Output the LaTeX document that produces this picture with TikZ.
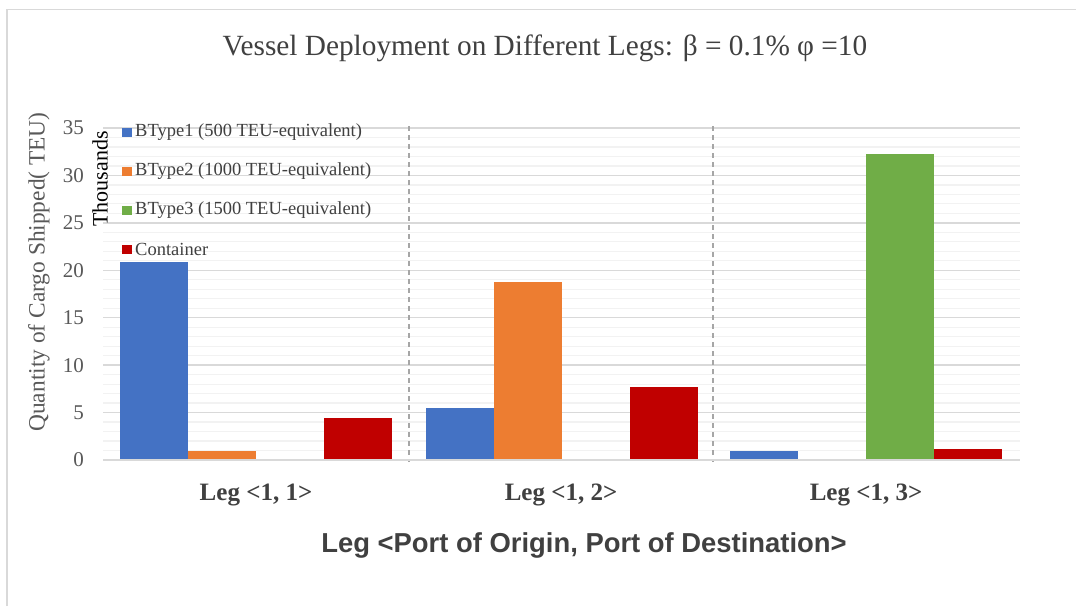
\documentclass[tikz,border=0pt]{standalone}
\usepackage{fontspec}
\setmainfont{Liberation Serif}
\newfontfamily\axisfont{Liberation Sans}
\definecolor{sblue}{HTML}{4472C4}
\definecolor{sorange}{HTML}{ED7D31}
\definecolor{sgreen}{HTML}{70AD47}
\definecolor{sred}{HTML}{C00000}
\definecolor{txt}{HTML}{404040}
\definecolor{ticktxt}{HTML}{595959}
\definecolor{majorcol}{HTML}{D9D9D9}
\definecolor{minorcol}{HTML}{F2F2F2}
\definecolor{framecol}{HTML}{D9D9D9}
\definecolor{sepcol}{HTML}{A6A6A6}
\tikzset{
  minorgrid/.style={minorcol, line width=1.2pt},
  majorgrid/.style={majorcol, line width=1.5pt},
  axisline/.style={majorcol, line width=2pt},
  separator/.style={sepcol, line width=1.3pt, dash pattern=on 5pt off 4pt},
  ticklabel/.style={anchor=east, inner sep=0pt, text=ticktxt, font=\fontsize{21}{23}\selectfont},
  legendtext/.style={anchor=west, inner sep=0pt, text=txt, font=\fontsize{18.5}{20}\selectfont},
  catlabel/.style={inner sep=0pt, text=txt, font=\fontsize{25}{27}\selectfont\bfseries}
}
\begin{document}
\begin{tikzpicture}[x=1pt, y=-1pt]
\useasboundingbox (0,0) rectangle (1076,606);
\fill[white] (0,0) rectangle (1076,606);
% chart frame (left and top edges)
\draw[framecol, line width=1.5pt] (7,606) -- (7,9.5) -- (1076,9.5);

% title
\node[text=txt, inner sep=0pt, font=\fontsize{29.3}{32}\selectfont] (title) at (545,48)
  {Vessel Deployment on Different Legs: β = 0.1\% φ =10};

% horizontal gridlines: minor every 1, major every 5 (thousand TEU)
\foreach \v in {0,...,35}
  \draw[minorgrid] (103,{460-\v*9.486}) -- (1020,{460-\v*9.486});
\foreach \v in {5,10,...,35}
  \draw[majorgrid] (103,{460-\v*9.486}) -- (1020,{460-\v*9.486});

% category separators
\draw[separator] (409,126) -- (409,462);
\draw[separator] (713,126) -- (713,462);

% bars: left edge / value / colour
\foreach \x/\v/\c in {120/20.9/sblue, 188/1.0/sorange, 324/4.43/sred,
                      426/5.45/sblue, 494/18.8/sorange, 630/7.66/sred,
                      730/0.92/sblue, 866/32.26/sgreen, 934/1.13/sred}
  \fill[\c] (\x,460) rectangle ({\x+68},{460-\v*9.486});

% horizontal axis
\draw[axisline] (103,460) -- (1020,460);

% y tick labels
\foreach \v in {0,5,...,35}
  \node[ticklabel] (tick\v) at (84,{460-\v*9.486}) {\v};

% axis titles
\node[rotate=90, inner sep=0pt, text=black, font=\fontsize{22}{24}\selectfont] (thousands) at (100,179) {Thousands};
\node[rotate=90, inner sep=0pt, text=ticktxt, font=\fontsize{23.4}{26}\selectfont] (ytitle) at (39,272) {Quantity of Cargo Shipped( TEU)};

% legend
\fill[sblue]   (122,128) rectangle (132,137);
\node[legendtext] (lg1) at (135,132.5) {BType1 (500 TEU-equivalent)};
\fill[sorange] (122,167) rectangle (132,176);
\node[legendtext] (lg2) at (135,171.5) {BType2 (1000 TEU-equivalent)};
\fill[sgreen]  (122,205.5) rectangle (132,214.5);
\node[legendtext] (lg3) at (135,210) {BType3 (1500 TEU-equivalent)};
\fill[sred]    (122,244.5) rectangle (132,253.5);
\node[legendtext] (lg4) at (135,249) {Container};

% category labels
\node[catlabel] (cat1) at (256,495) {Leg <1, 1>};
\node[catlabel] (cat2) at (561,495) {Leg <1, 2>};
\node[catlabel] (cat3) at (866,495) {Leg <1, 3>};

% x axis title
\node[inner sep=0pt, text=txt, font=\axisfont\bfseries\fontsize{27.4}{30}\selectfont] (xtitle) at (584,545)
  {Leg <Port of Origin, Port of Destination>};
\end{tikzpicture}
\end{document}
